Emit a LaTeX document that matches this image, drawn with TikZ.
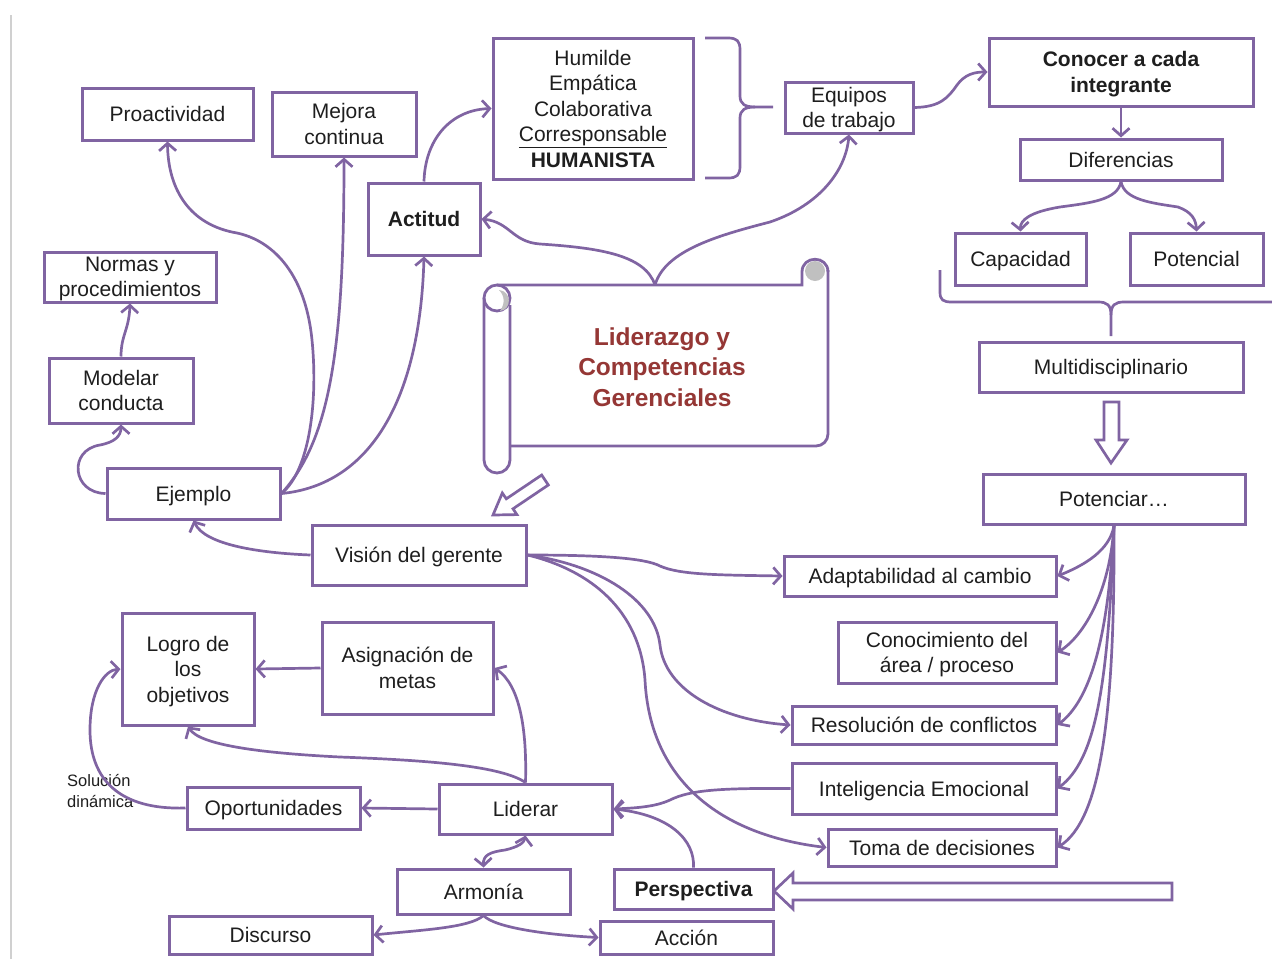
\documentclass[tikz,border=0pt]{standalone}
\usepackage{fontspec}
\setmainfont{Liberation Sans}
\usetikzlibrary{arrows.meta}
\definecolor{purp}{RGB}{128,100,162}
\definecolor{titlered}{RGB}{149,55,53}
\definecolor{rollgray}{RGB}{192,192,192}
\definecolor{ink}{RGB}{30,30,30}
\definecolor{edgegray}{RGB}{208,208,208}

\begin{document}
\begin{tikzpicture}[x=1pt,y=-1pt,
  >={Straight Barb[length=7.5pt,width=17pt]},
  box/.style={draw=purp, line width=3pt, fill=white, align=center, inner sep=0pt,
              text depth=0pt, text=ink, font=\fontsize{21}{25.5}\selectfont},
  boldbox/.style={box, font=\fontsize{21}{25.5}\selectfont\bfseries},
  sz/.style 2 args={minimum width=#1pt, minimum height=#2pt},
  conn/.style={draw=purp, line width=2.7pt, ->},
  biconn/.style={draw=purp, line width=2.7pt, <->},
  brace/.style={draw=purp, line width=2.7pt},
  hollow/.style={draw=purp, line width=2.7pt, fill=white, line join=miter},
  scrollline/.style={draw=purp, line width=2.8pt}
]
\useasboundingbox (0,0) rectangle (1272,959);

% page edge rule
\draw[edgegray, line width=2pt] (11,15) -- (11,959);

% ---------- scroll with the central title ----------
\fill[white] (497,285) rectangle (828,446);
\fill[rollgray] (815,271) circle[radius=10];
\draw[scrollline] (497,285) -- (802,285) -- (802,272)
   .. controls (802,255) and (828,255) .. (828,272);
\draw[scrollline, rounded corners=12] (828,270) -- (828,446) -- (510,446);
\draw[scrollline, rounded corners=13] (484,298) -- (484,473) -- (510,473) -- (510,305);
\draw[scrollline] (497,298) circle[radius=13];
\fill[rollgray] (499,290) .. controls (512,291) and (512,310) .. (500,311)
   .. controls (505,304) and (505,296) .. (499,290);
\node[font=\fontsize{24.5}{30.5}\selectfont\bfseries, text=titlered, align=center]
   (title) at (662,367) {Liderazgo y\\Competencias\\Gerenciales};
\coordinate (scrolltop) at (655,285);

% ---------- boxes ----------
\node[box, sz={171}{52}] (proact) at (167.5,114) {Proactividad};
\node[box, sz={144}{64}] (mejora) at (344,124) {Mejora\\continua};
\node[box, sz={200}{141}] (humilde) at (593,108.5)
   {Humilde\\Empática\\Colaborativa\\\underline{Corresponsable}\\\textbf{HUMANISTA}};
\node[box, sz={128}{51}] (equipos) at (849,107.5) {Equipos\\de trabajo};
\node[boldbox, sz={264}{68}] (conocer) at (1121,72) {Conocer a cada\\integrante};
\node[box, sz={202}{41}] (difer) at (1121,159.5) {Diferencias};
\node[box, sz={131}{52}] (capac) at (1020.5,259) {Capacidad};
\node[box, sz={133}{52}] (potencial) at (1196.5,259) {Potencial};
\node[box, sz={264}{50}] (multi) at (1111,367) {Multidisciplinario};
\node[box, sz={262}{50}] (potenciar) at (1114,499) {Potenciar…};
\node[box, sz={172}{50}] (normas) at (130,277) {Normas y\\procedimientos};
\node[boldbox, sz={112}{72}] (actitud) at (424,219) {Actitud};
\node[box, sz={144}{65}] (modelar) at (121,390.5) {Modelar\\conducta};
\node[box, sz={173}{51}] (ejemplo) at (193.5,493.5) {Ejemplo};
\node[box, sz={214}{60}] (vision) at (419,555) {Visión del gerente};
\node[box, sz={272}{40}] (adapt) at (920,576) {Adaptabilidad al cambio};
\node[box, sz={218}{61}] (conoc) at (947,652.5) {Conocimiento del\\área / proceso};
\node[box, sz={264}{38}] (resol) at (924,725) {Resolución de conflictos};
\node[box, sz={264}{51}] (intel) at (924,788.5) {Inteligencia Emocional};
\node[box, sz={228}{37}] (toma) at (942,847.5) {Toma de decisiones};
\node[box, sz={132}{112}] (logro) at (188,669) {Logro de\\los\\objetivos};
\node[box, sz={171}{92}] (asign) at (407.5,668) {Asignación de\\metas};
\node[box, sz={173}{42}] (oport) at (273.5,808) {Oportunidades};
\node[box, sz={173}{50}] (liderar) at (525.5,809) {Liderar};
\node[box, sz={173}{45}] (armonia) at (483.5,891.5) {Armonía};
\node[boldbox, sz={159}{40}] (persp) at (693.5,889) {Perspectiva};
\node[box, sz={203}{38}] (discurso) at (270.5,935) {Discurso};
\node[box, sz={173}{33}] (accion) at (686.5,937.5) {Acción};

\node[font=\fontsize{16.5}{20.5}\selectfont, text=ink, align=left, anchor=west, inner sep=0pt]
   (solucion) at (67,791) {Solución\\dinámica};

% ---------- braces ----------
\coordinate (bracetip) at (773,107);
\draw[brace] (705,38) -- (728,38) .. controls (737,38) and (740,41) .. (740,50)
   -- (740,96) .. controls (740,104) and (745,107) .. (755,107) -- (bracetip);
\draw[brace] (755,107) .. controls (745,107) and (740,110) .. (740,118)
   -- (740,166) .. controls (740,175) and (737,178) .. (728,178) -- (705,178);

\coordinate (lowbrace) at (1111,336);
\draw[brace] (940,270) -- (940,292) .. controls (940,300) and (943,302) .. (952,302)
   -- (1098,302) .. controls (1107,302) and (1111,305) .. (1111,315) -- (lowbrace);
\draw[brace] (1111,315) .. controls (1111,305) and (1115,302) .. (1124,302) -- (1280,302);

% ---------- block arrows ----------
\draw[hollow] (1104,402) -- (1119,402) -- (1119,440) -- (1127,440) -- (1111,463)
   -- (1096,440) -- (1104,440) -- cycle;
\draw[hollow] (1172,883) -- (1172,900) -- (793,900) -- (793,909) -- (774,891)
   -- (793,873) -- (793,883) -- cycle;
\draw[hollow] (548.3,485) -- (513,508.8) -- (516.9,514.6) -- (493,515)
   -- (502.3,493) -- (506.3,498.8) -- (541.7,475) -- cycle;

% ---------- connectors: upper left ----------
\draw[conn] (ejemplo.east) .. controls (310,470) and (318,400) .. (312,340)
   .. controls (305,270) and (270,240) .. (237,233)
   .. controls (190,225) and (168,190) .. (proact.south);
\draw[conn] (ejemplo.east) .. controls (330,440) and (344,350) .. (mejora.south);
\draw[conn] (ejemplo.east) .. controls (370,485) and (420,400) .. (actitud.south);
\draw[conn] (ejemplo.west) .. controls (72,493) and (68,450) .. (100,445)
   .. controls (115,442) and (121,436) .. (modelar.south);
\draw[conn] (modelar.north) .. controls (121,335) and (129,330) .. (normas.south);
\draw[conn] (actitud.north) .. controls (425,140) and (450,110) .. (humilde.west);

% ---------- connectors: from the scroll ----------
\draw[conn] (scrolltop) .. controls (645,255) and (600,248) .. (540,244)
   .. controls (512,242) and (510,222) .. (actitud.east);
\draw[conn] (scrolltop) .. controls (665,250) and (720,235) .. (770,222)
   .. controls (820,205) and (846,170) .. (equipos.south);

% ---------- connectors: upper right ----------
\draw[conn] (equipos.east) .. controls (940,107) and (948,98) .. (957,85)
   .. controls (965,74) and (975,72) .. (conocer.west);
\draw[conn] (conocer.south) -- (difer.north);
\draw[conn] (difer.south) .. controls (1118,200) and (1090,203) .. (1060,207)
   .. controls (1030,212) and (1020,220) .. (capac.north);
\draw[conn] (difer.south) .. controls (1124,200) and (1152,203) .. (1178,207)
   .. controls (1192,212) and (1196,220) .. (potencial.north);

% ---------- connectors: from Potenciar ----------
\draw[conn] (potenciar.south) .. controls (1110,550) and (1085,565) .. (adapt.east);
\draw[conn] (potenciar.south) .. controls (1110,590) and (1085,635) .. (conoc.east);
\draw[conn] (potenciar.south) .. controls (1108,640) and (1090,700) .. (resol.east);
\draw[conn] (potenciar.south) .. controls (1108,690) and (1095,760) .. (intel.east);
\draw[conn] (potenciar.south) .. controls (1115,720) and (1100,820) .. (toma.east);

% ---------- connectors: from Visión del gerente ----------
\draw[conn] (vision.west) .. controls (260,553) and (205,545) .. (ejemplo.south);
\draw[conn] (vision.east) .. controls (600,555) and (645,558) .. (660,566)
   .. controls (680,575) and (720,575) .. (adapt.west);
\draw[conn] (vision.east) .. controls (600,565) and (655,600) .. (660,645)
   .. controls (665,690) and (720,720) .. (resol.west);
\draw[conn] (vision.east) .. controls (590,570) and (640,610) .. (645,680)
   .. controls (650,780) and (720,835) .. (toma.west);

% ---------- connectors: lower part ----------
\draw[conn] (intel.west) .. controls (720,788) and (690,790) .. (670,800)
   .. controls (655,807) and (635,808) .. (liderar.east);
\draw[conn] (persp.north) .. controls (695,840) and (670,815) .. (liderar.east);
\draw[conn] (liderar.north) .. controls (527,730) and (520,685) .. (asign.east);
\draw[conn] (liderar.north) .. controls (500,765) and (420,760) .. (340,757)
   .. controls (260,753) and (200,745) .. (logro.south);
\draw[conn] (liderar.west) -- (oport.east);
\draw[conn] (oport.west) .. controls (120,810) and (90,780) .. (90,730)
   .. controls (90,690) and (105,670) .. (logro.west);
\draw[conn] (asign.west) -- (logro.east);
\draw[biconn] (armonia.north) .. controls (483,855) and (490,852) .. (505,850)
   .. controls (518,847) and (524,843) .. (liderar.south);
\draw[conn] (armonia.south) .. controls (470,928) and (420,930) .. (discurso.east);
\draw[conn] (armonia.south) .. controls (495,928) and (550,935) .. (accion.west);
\end{tikzpicture}
\end{document}
